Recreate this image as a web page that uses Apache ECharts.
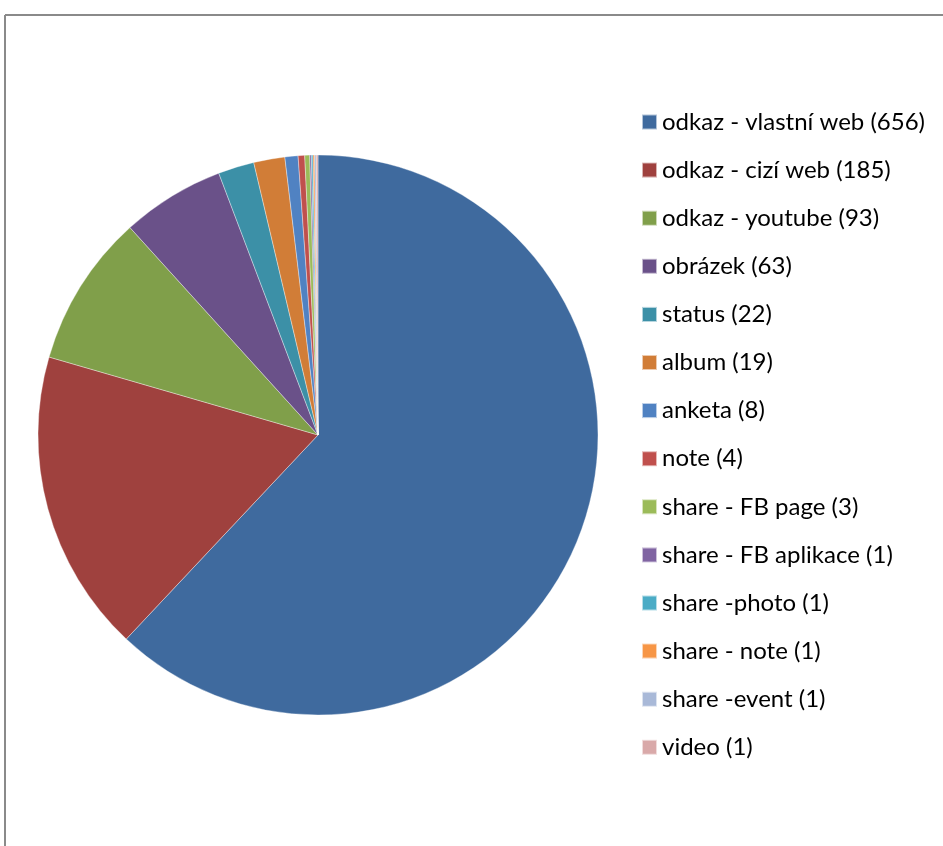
<!DOCTYPE html>
<html>
<head>
<meta charset="utf-8">
<script src="https://cdn.jsdelivr.net/npm/echarts@6/dist/echarts.min.js"></script>
<style>
    html, body {margin: 0; padding: 0; background: #fff;}
    #main {width: 943px; height: 846px;}
</style>
</head>
<body>
<div id="main"></div>
<script>
// typy příspěvků a jejich počty
var names = ['odkaz - vlastní web', 'odkaz - cizí web', 'odkaz - youtube', 'obrázek', 'status', 'album',
    'anketa', 'note', 'share - FB page', 'share - FB aplikace', 'share -photo', 'share - note', 'share -event', 'video'];
var counts = [656, 185, 93, 63, 22, 19, 8, 4, 3, 1, 1, 1, 1, 1];
var colors = ['#3f6a9e', '#9f413e', '#809f4a', '#6a5189', '#3c90a7', '#d17d37',
    '#5082c2', '#c0504d', '#9bbb59', '#8064a2', '#4bacc6', '#f79646', '#a9b9d8', '#d9a9a9'];

var data = [];
for (var i = 0; i < names.length; i++) {
    data.push({name: names[i], value: counts[i], itemStyle: {color: colors[i]}});
}

var myChart = echarts.init(document.getElementById('main'));
var option = {
    animation: false,
    legend: {
        orient: 'vertical',
        left: 641,
        top: 110,
        height: 720,
        padding: 0,
        itemWidth: 15,
        itemHeight: 15,
        itemGap: 24.1,
        icon: 'rect',
        formatter: function (name) {
            return name + ' (' + counts[names.indexOf(name)] + ')';
        },
        textStyle: {
            fontFamily: 'Lato',
            fontSize: 24,
            color: '#000'
        }
    },
    graphic: [
        {type: 'line', shape: {x1: 5, y1: 15, x2: 943, y2: 15}, style: {stroke: '#8a8a8a', lineWidth: 2}},
        {type: 'line', shape: {x1: 5, y1: 15, x2: 5, y2: 846}, style: {stroke: '#8a8a8a', lineWidth: 2}}
    ],
    series: [
        {
            type: 'pie',
            center: [318, 435],
            radius: [0, 280],
            startAngle: 90,
            clockwise: true,
            label: {show: false},
            labelLine: {show: false},
            itemStyle: {borderColor: 'rgba(255,255,255,0.6)', borderWidth: 0.6},
            emphasis: {disabled: true},
            data: data
        }
    ]
};
myChart.setOption(option);
</script>
</body>
</html>
